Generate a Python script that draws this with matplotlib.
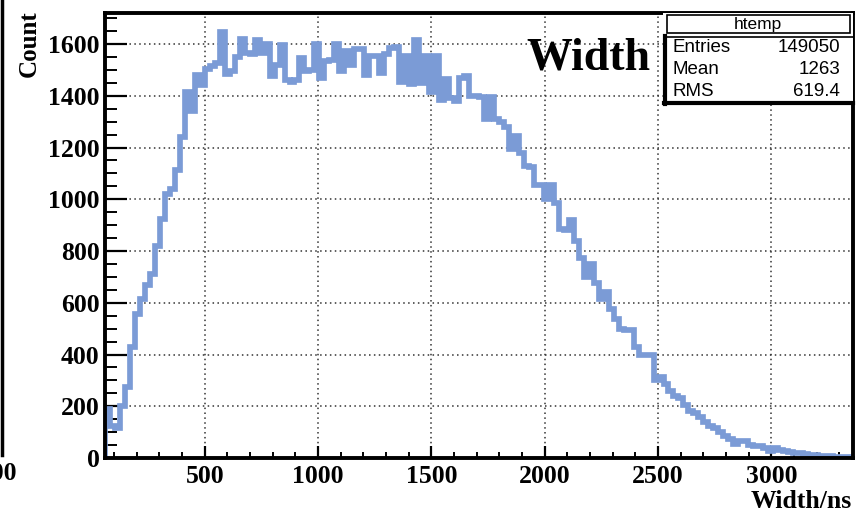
import numpy as np
import matplotlib
matplotlib.use('Agg')
import matplotlib.pyplot as plt
from matplotlib.patches import Rectangle
from matplotlib.lines import Line2D

# pulse width histogram, 150 bins between 60 and 3360 ns
counts = [
    190, 125, 115, 200, 275, 430, 555, 615, 670, 710,
    820, 925, 1020, 1040, 1115, 1240, 1415, 1340, 1480, 1440,
    1505, 1515, 1525, 1645, 1485, 1495, 1550, 1620, 1565, 1560,
    1615, 1565, 1600, 1475, 1520, 1595, 1460, 1455, 1460, 1545,
    1495, 1500, 1600, 1470, 1535, 1540, 1600, 1495, 1575, 1520,
    1580, 1580, 1480, 1555, 1555, 1490, 1560, 1585, 1590, 1455,
    1555, 1445, 1615, 1450, 1555, 1415, 1555, 1385, 1465, 1390,
    1380, 1470, 1475, 1400, 1400, 1395, 1310, 1395, 1310, 1300,
    1280, 1195, 1245, 1180, 1130, 1125, 1055, 1055, 1000, 1055,
    985, 885, 880, 920, 840, 772, 700, 750, 677, 615,
    640, 575, 537, 500, 493, 493, 430, 398, 398, 397,
    300, 315, 285, 258, 239, 230, 205, 181, 175, 160,
    140, 125, 115, 100, 85, 75, 55, 65, 65, 50,
    47, 47, 40, 27, 40, 30, 27, 25, 20, 18,
    15, 12, 10, 8, 7, 6, 5, 4, 3, 3,
]
x_lo, x_hi = 60, 3360
edges = np.linspace(x_lo, x_hi, len(counts) + 1)

x_ticks = [500, 1000, 1500, 2000, 2500, 3000]
y_ticks = [0, 200, 400, 600, 800, 1000, 1200, 1400, 1600]

hist_name = 'htemp'
stat_names = ['Entries', 'Mean', 'RMS']
stat_values = ['149050', '1263', '619.4']

W, H = 856, 516
serif = 'Liberation Serif'
sans = 'Liberation Sans'


def fx(px):
    return px / W


def fy(py):
    return 1 - py / H


fig = plt.figure(figsize=(W / 100, H / 100), dpi=100)
ax = fig.add_axes([fx(105), fy(458), (853 - 105) / W, (458 - 13) / H])

ax.stairs(counts, edges, color='#7b9bd6', lw=4.1, zorder=3)

ax.set_xlim(x_lo, x_hi)
ax.set_ylim(0, 1720)
ax.set_xticks(x_ticks)
ax.set_yticks(y_ticks)
ax.set_xticks(np.arange(100, 3400, 100), minor=True)
ax.set_yticks(np.arange(0, 1720, 50), minor=True)

ax.grid(True, which='major', color='#333333', linestyle=(0, (1, 2.2)), lw=1.1)
ax.set_axisbelow(True)

for s in ax.spines.values():
    s.set_linewidth(2.8)
    s.set_zorder(5)

ax.tick_params(axis='x', which='major', direction='in', length=9, width=1.6,
               pad=5, top=False)
ax.tick_params(axis='x', which='minor', direction='in', length=4.5, width=1.4,
               top=False)
ax.tick_params(axis='y', which='major', direction='in', length=16, width=1.6,
               pad=4, right=False)
ax.tick_params(axis='y', which='minor', direction='in', length=8.5, width=1.4,
               right=False)
for lab in ax.get_xticklabels() + ax.get_yticklabels():
    lab.set_fontfamily(serif)
    lab.set_fontweight('bold')
    lab.set_fontsize(18.5)

# axis titles and histogram title
fig.text(fx(29), fy(44), 'Count', rotation=90, ha='center', va='center',
         family=serif, weight='bold', fontsize=18)
fig.text(fx(852), fy(502), 'Width/ns', ha='right', va='center',
         family=serif, weight='bold', fontsize=18.5)
fig.text(fx(526), fy(58), 'Width', ha='left', va='center',
         family=serif, weight='bold', fontsize=33)

# statistics box
fig.add_artist(Rectangle((fx(663), fy(104)), (853 - 663) / W, (104 - 13) / H,
                         facecolor='white', edgecolor='none', zorder=6))
fig.add_artist(Rectangle((fx(667), fy(33)), (850 - 667) / W, (33 - 15) / H,
                         facecolor='white', edgecolor='black', lw=1.2, zorder=7))
fig.add_artist(Line2D([fx(665), fx(853)], [fy(37), fy(37)], color='black',
                      lw=1.2, zorder=7))
fig.add_artist(Line2D([fx(665), fx(665)], [fy(36), fy(104)], color='black',
                      lw=3, zorder=7))
fig.add_artist(Line2D([fx(664), fx(853)], [fy(103), fy(103)], color='black',
                      lw=3, zorder=7))
fig.text(fx(758), fy(24), hist_name, ha='center', va='center', family=sans,
         fontsize=12.5, zorder=8)
for k, (name, val) in enumerate(zip(stat_names, stat_values)):
    yy = fy(48 + 22 * k)
    fig.text(fx(672), yy, name, ha='left', va='center', family=sans,
             fontsize=13.5, zorder=8)
    fig.text(fx(840), yy, val, ha='right', va='center', family=sans,
             fontsize=13.5, zorder=8)

# edge of the neighbouring panel
fig.add_artist(Line2D([fx(1.5), fx(1.5)], [fy(0), fy(455)], color='black', lw=2.5))
fig.text(fx(16), fy(474), '3000', ha='right', va='center', family=serif,
         weight='bold', fontsize=18.5)

fig.savefig('out.png', dpi=100)
